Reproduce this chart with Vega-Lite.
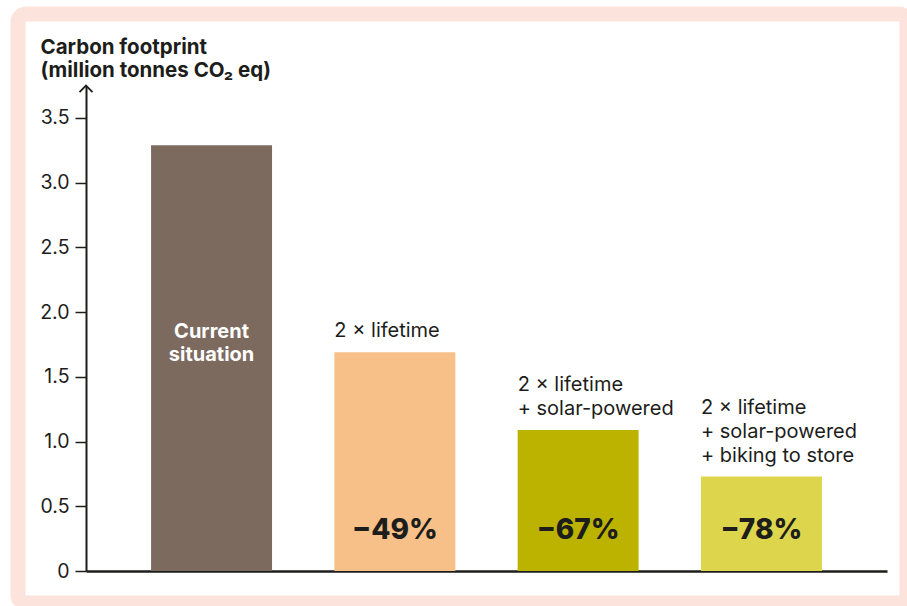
{
  "$schema": "https://vega.github.io/schema/vega-lite/v6.json",
  "width": 889,
  "height": 589,
  "autosize": {"type": "none"},
  "padding": {"left": 18, "top": 14, "right": 0, "bottom": 3},
  "background": "white",
  "config": {
    "font": "Inter",
    "view": {"fill": "white", "stroke": "#fce3dc", "strokeWidth": 15, "cornerRadius": 8},
    "text": {"lineBreak": "\n", "color": "#1d1d1b"}
  },
  "data": {
    "values": [
      {"scenario": "Current situation", "value": 3.29, "inside": "Current\nsituation", "line1": "", "line2": "", "line3": "", "change": ""},
      {"scenario": "2 × lifetime", "value": 1.69, "inside": "", "line1": "2 × lifetime", "line2": "", "line3": "", "change": "−49%"},
      {"scenario": "2 × lifetime + solar-powered", "value": 1.09, "inside": "", "line1": "+ solar-powered", "line2": "2 × lifetime", "line3": "", "change": "−67%"},
      {"scenario": "2 × lifetime + solar-powered + biking to store", "value": 0.73, "inside": "", "line1": "+ biking to store", "line2": "+ solar-powered", "line3": "2 × lifetime", "change": "−78%"}
    ]
  },
  "resolve": {"scale": {"x": "independent"}, "axis": {"x": "independent"}},
  "layer": [
    {
      "layer": [
        {
          "mark": {"type": "bar"},
          "encoding": {
            "x": {
              "field": "scenario", "type": "nominal", "sort": null,
              "scale": {"range": [68, 869], "paddingInner": 0.34, "paddingOuter": 0.355},
              "axis": {"labels": false, "ticks": false, "title": null, "domainColor": "#1d1d1b", "domainWidth": 2.5, "offset": -32}
            },
            "y": {
              "field": "value", "type": "quantitative",
              "scale": {"domain": [0, 3.75], "range": [557, 71.6], "nice": false, "zero": true},
              "axis": {
                "values": [0, 0.5, 1, 1.5, 2, 2.5, 3, 3.5],
                "labelExpr": "datum.value === 0 ? '0' : format(datum.value, '.1f')",
                "grid": false,
                "offset": -68,
                "domainColor": "#1d1d1b", "domainWidth": 2,
                "tickColor": "#1d1d1b", "tickWidth": 1.5, "tickSize": 11,
                "labelFontSize": 19.5, "labelColor": "#1d1d1b", "labelPadding": 6, "labelFont": "Inter",
                "title": ["Carbon footprint", "(million tonnes CO₂ eq)"],
                "titleAngle": 0, "titleAlign": "left", "titleBaseline": "alphabetic",
                "titleX": -46, "titleY": 39, "titleLineHeight": 23,
                "titleFontSize": 20.5, "titleFontWeight": "bold", "titleColor": "#1d1d1b", "titleFont": "Inter"
              }
            },
            "color": {
              "field": "scenario", "type": "nominal", "sort": null,
              "scale": {"range": ["#7c6a5f", "#f7c089", "#bcb300", "#ddd54b"]},
              "legend": null
            }
          }
        },
        {
          "mark": {"type": "text", "align": "center", "baseline": "alphabetic", "color": "white", "fontSize": 20, "fontWeight": "bold", "lineHeight": 23},
          "encoding": {
            "x": {"field": "scenario", "type": "nominal", "sort": null},
            "y": {"datum": 1.8, "type": "quantitative"},
            "text": {"field": "inside"}
          }
        },
        {
          "mark": {"type": "text", "align": "left", "baseline": "alphabetic", "fontSize": 20, "dy": -15},
          "encoding": {
            "x": {"field": "scenario", "type": "nominal", "sort": null, "bandPosition": 0},
            "y": {"field": "value", "type": "quantitative"},
            "text": {"field": "line1"}
          }
        },
        {
          "mark": {"type": "text", "align": "left", "baseline": "alphabetic", "fontSize": 20, "dy": -39},
          "encoding": {
            "x": {"field": "scenario", "type": "nominal", "sort": null, "bandPosition": 0},
            "y": {"field": "value", "type": "quantitative"},
            "text": {"field": "line2"}
          }
        },
        {
          "mark": {"type": "text", "align": "left", "baseline": "alphabetic", "fontSize": 20, "dy": -63},
          "encoding": {
            "x": {"field": "scenario", "type": "nominal", "sort": null, "bandPosition": 0},
            "y": {"field": "value", "type": "quantitative"},
            "text": {"field": "line3"}
          }
        },
        {
          "mark": {"type": "text", "align": "center", "baseline": "alphabetic", "fontSize": 28, "fontWeight": 800, "dy": -32},
          "encoding": {
            "x": {"field": "scenario", "type": "nominal", "sort": null},
            "y": {"datum": 0, "type": "quantitative"},
            "text": {"field": "change"}
          }
        }
      ]
    },
    {
      "data": {"values": [{"tip": 3.75, "edge": 0}]},
      "mark": {"type": "point", "shape": "M -1 1 L 0 0 L 1 1", "filled": false, "size": 169, "stroke": "#1d1d1b", "strokeWidth": 1.8, "opacity": 1},
      "encoding": {
        "x": {"field": "edge", "type": "quantitative", "scale": {"domain": [0, 1], "range": [68, 869]}, "axis": null},
        "y": {"field": "tip", "type": "quantitative"}
      }
    }
  ]
}
